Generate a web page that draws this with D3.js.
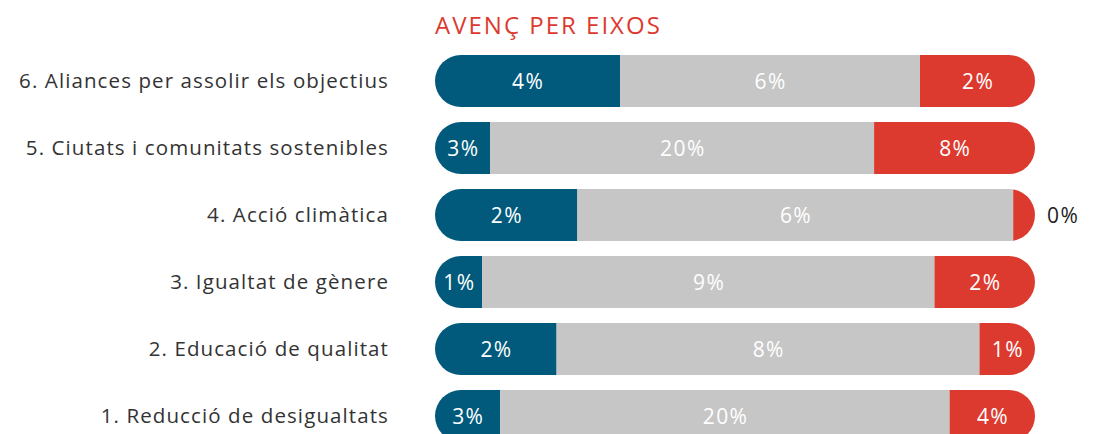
<!DOCTYPE html>
<html>
<head>
<meta charset="utf-8">
<script src="https://cdn.jsdelivr.net/npm/d3@7"></script>
<style>
  body { margin: 0; background: #fff; }
  text { font-family: "Open Sans", "DejaVu Sans", sans-serif; }
</style>
</head>
<body>
<script>
var w = 1113;
var h = 434;

// rows, top to bottom
var categories = [
    '6. Aliances per assolir els objectius',
    '5. Ciutats i comunitats sostenibles',
    '4. Acció climàtica',
    '3. Igualtat de gènere',
    '2. Educació de qualitat',
    '1. Reducció de desigualtats'
];
// percentages per state (blue / gray / red)
var assolit   = [3.7, 2.85, 1.96, 0.94, 2.3, 2.9];
var enCurs    = [6.0, 19.8, 6.0, 9.0, 8.0, 20.0];
var pendent   = [2.3, 8.3, 0.3, 2.0, 1.05, 3.8];

var colors = ['#015a7c', '#c6c6c6', '#dc3a2f'];

var svg = d3.select('body').append('svg')
    .attr('width', w).attr('height', h);

var y = d3.scaleBand()
    .domain(categories)
    .range([47.5, 449.5])
    .paddingInner(15 / 67)
    .paddingOuter(15 / 134);

var x = d3.scaleLinear().domain([0, 1]).range([435, 1035]);

// title
svg.append('text')
    .attr('x', 435)
    .attr('y', 34)
    .attr('fill', '#dc3a2f')
    .attr('font-size', '24px')
    .attr('letter-spacing', '2px')
    .text('AVENÇ PER EIXOS');

// category labels
svg.selectAll('text.cat')
    .data(categories).enter()
    .append('text')
    .attr('class', 'cat')
    .attr('x', 389)
    .attr('y', function(d) { return y(d) + y.bandwidth() / 2; })
    .attr('dy', '0.35em')
    .attr('text-anchor', 'end')
    .attr('fill', '#333')
    .attr('font-size', '20.5px')
    .attr('letter-spacing', '1.1px')
    .text(function(d) { return d; });

var defs = svg.append('defs');
var rows = categories.map(function(c, i) {
    var vals = [assolit[i], enCurs[i], pendent[i]];
    var total = d3.sum(vals);
    var acc = 0;
    var segs = vals.map(function(v, k) {
        var s = { cat: c, k: k, v: v, x0: acc / total, x1: (acc + v) / total };
        acc += v;
        return s;
    });
    return { cat: c, i: i, segs: segs };
});

rows.forEach(function(r) {
    var r2 = y.bandwidth() / 2;
    defs.append('clipPath').attr('id', 'pill' + r.i)
        .append('rect')
        .attr('x', x(0)).attr('y', y(r.cat))
        .attr('width', x(1) - x(0)).attr('height', y.bandwidth())
        .attr('rx', r2).attr('ry', r2);

    var g = svg.append('g');
    g.append('g').attr('clip-path', 'url(#pill' + r.i + ')')
        .selectAll('rect')
        .data(r.segs).enter()
        .append('rect')
        .attr('x', function(d) { return x(d.x0); })
        .attr('y', y(r.cat))
        .attr('width', function(d) { return x(d.x1) - x(d.x0); })
        .attr('height', y.bandwidth())
        .attr('fill', function(d) { return colors[d.k]; });

    // small segments get their label outside the bar
    g.selectAll('text')
        .data(r.segs).enter()
        .append('text')
        .attr('x', function(d) {
            var wd = x(d.x1) - x(d.x0);
            return wd < 30 ? x(1) + 12 : (x(d.x0) + x(d.x1)) / 2 + 0.7;
        })
        .attr('y', y(r.cat) + y.bandwidth() / 2)
        .attr('dy', '0.36em')
        .attr('text-anchor', function(d) { return x(d.x1) - x(d.x0) < 30 ? 'start' : 'middle'; })
        .attr('fill', function(d) { return x(d.x1) - x(d.x0) < 30 ? '#222' : '#fff'; })
        .attr('font-size', '21px')
        .attr('letter-spacing', '1.4px')
        .text(function(d) { return Math.round(d.v) + '%'; });
});
</script>
</body>
</html>
